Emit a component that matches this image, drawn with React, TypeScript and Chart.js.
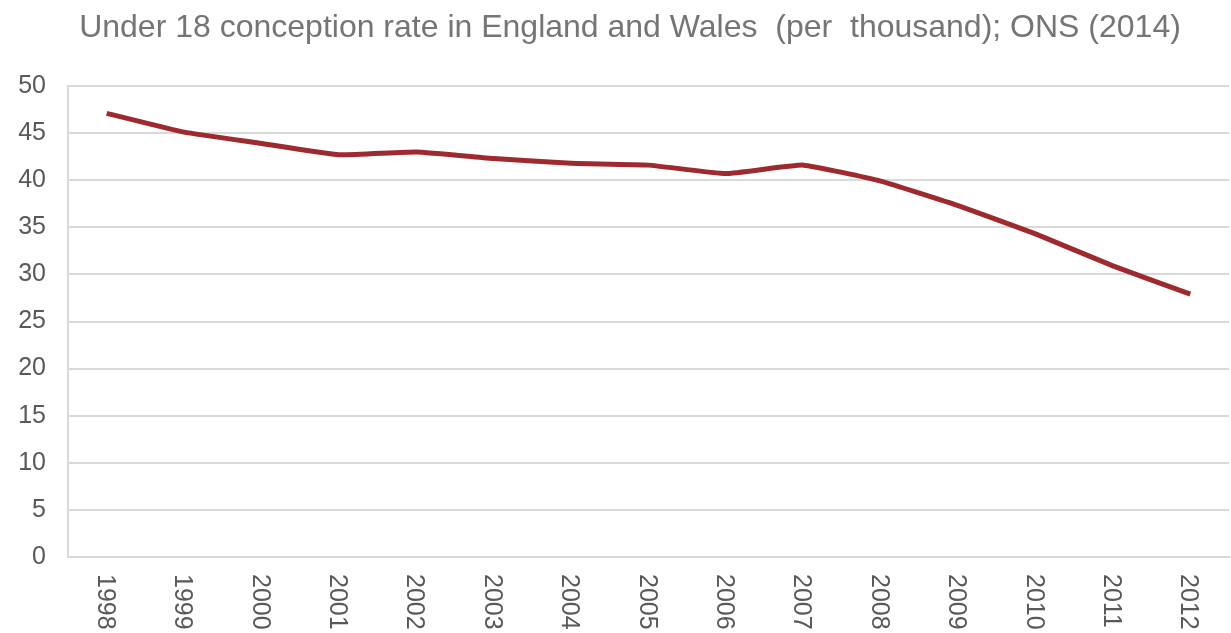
import React, { useEffect, useRef } from "react";
import { Chart, registerables } from "chart.js";

Chart.register(...registerables);

const years = ["1998","1999","2000","2001","2002","2003","2004","2005","2006","2007","2008","2009","2010","2011","2012"];
const rates = [47.1, 45.1, 43.9, 42.7, 43.0, 42.3, 41.8, 41.6, 40.7, 41.6, 39.9, 37.3, 34.3, 30.9, 27.9];
const yTicks = [0, 5, 10, 15, 20, 25, 30, 35, 40, 45, 50];
const titleText = "Under 18 conception rate in England and Wales  (per  thousand); ONS (2014)";

const FONT = "'Liberation Sans', Arial, sans-serif";

const titleAndLabels = {
  id: "titleAndLabels",
  afterDraw(chart: any) {
    const xs = chart.scales.x;
    const ctx = chart.ctx;
    ctx.save();
    ctx.fillStyle = "#757575";
    ctx.font = `32px ${FONT}`;
    ctx.textAlign = "center";
    ctx.textBaseline = "middle";
    ctx.fillText(titleText, 630, 28);
    ctx.fillStyle = "#595959";
    ctx.font = `25px ${FONT}`;
    ctx.textAlign = "left";
    ctx.textBaseline = "middle";
    years.forEach((lab, i) => {
      const x = xs.getPixelForTick(i);
      ctx.save();
      ctx.translate(x - 2, xs.top + 17);
      ctx.rotate(Math.PI / 2);
      ctx.fillText(lab, 0, 0);
      ctx.restore();
    });
    ctx.restore();
  },
};

export default function App() {
  const ref = useRef<HTMLCanvasElement>(null);
  useEffect(() => {
    document.body.style.margin = "0";
    const chart = new Chart(ref.current!, {
      type: "line",
      data: {
        labels: years,
        datasets: [
          {
            data: rates,
            borderColor: "#9e2a2f",
            borderWidth: 5,
            pointRadius: 0,
            tension: 0.12,
            fill: false,
          },
        ],
      },
      options: {
        responsive: false,
        animation: false,
        layout: { padding: { left: 0, right: 2, top: 86, bottom: 0 } },
        plugins: {
          legend: { display: false },
          tooltip: { enabled: false },
          title: { display: false },
        },
        scales: {
          x: {
            offset: true,
            grid: { display: false, drawTicks: false },
            border: { color: "#d9d9d9", width: 2 },
            ticks: { display: false },
            afterFit: (s: any) => {
              s.height = 76;
            },
          },
          y: {
            min: 0,
            max: 50,
            afterBuildTicks: (s: any) => {
              s.ticks = yTicks.map((v) => ({ value: v }));
            },
            grid: { color: "#d9d9d9", lineWidth: 2, drawTicks: false },
            border: { color: "#d9d9d9", width: 2 },
            ticks: {
              color: "#595959",
              font: { family: FONT, size: 25 },
              padding: 22,
            },
            afterFit: (s: any) => {
              s.width = 68;
            },
          },
        },
      },
      plugins: [titleAndLabels],
    });
    return () => chart.destroy();
  }, []);
  return (
    <div style={{ position: "absolute", left: 0, top: 0, width: 1231, height: 633, background: "#fff" }}>
      <canvas ref={ref} width={1231} height={633} />
    </div>
  );
}
